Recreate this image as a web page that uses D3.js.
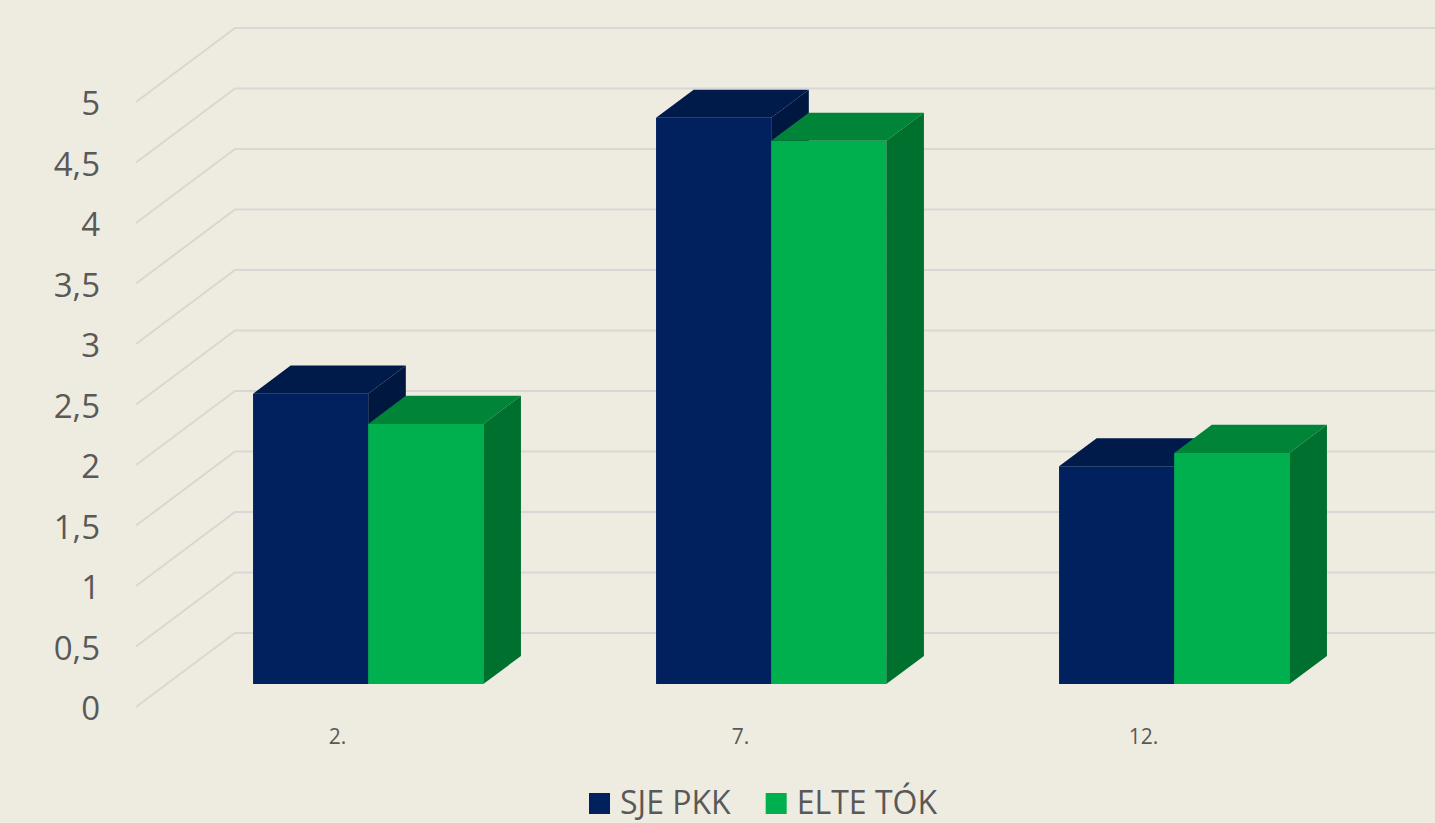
<!DOCTYPE html>
<html>
<head>
<meta charset="utf-8">
<script src="https://cdn.jsdelivr.net/npm/d3@7"></script>
<style>
  html, body { margin: 0; padding: 0; background: #eeece1; }
  svg { display: block; }
  text { font-family: "Open Sans", "Noto Sans", sans-serif; fill: #595959; }
</style>
</head>
<body>
<svg id="chart" width="1435" height="823"></svg>
<script>
// ---- data ----
const categories = ["2.", "7.", "12."];
const seriesNames = ["SJE PKK", "ELTE TÓK"];
const sjePkk = [2.4, 4.68, 1.8];
const elteTok = [2.15, 4.49, 1.91];
const yTicks = [0, 0.5, 1, 1.5, 2, 2.5, 3, 3.5, 4, 4.5, 5];
const yTickLabels = ["0", "0,5", "1", "1,5", "2", "2,5", "3", "3,5", "4", "4,5", "5"];

// ---- styles ----
const colors = {
  "SJE PKK": { front: "#00205e", top: "#001a49", side: "#001740" },
  "ELTE TÓK": { front: "#00b04f", top: "#008538", side: "#00702f" }
};
const gridColor = "#d7d7d5";

const svg = d3.select("#chart");
const W = 1435;

// front-plane scales (floor front edge, depth t = 0)
const x = d3.scaleBand().domain(categories).range([136, 1345]).paddingInner(0).paddingOuter(0);
const xs = d3.scaleBand().domain(seriesNames).range([0, x.bandwidth()]).paddingInner(0).paddingOuter(0.75);
const y = d3.scaleLinear().domain([0, 5]).range([707, 102]);

// oblique depth projection
const depthDX = 99, depthDY = -74;
const barT0 = 0.31, barT1 = 0.69;
const proj = (px, py, t) => [px + depthDX * t, py + depthDY * t];

// ---- gridlines: side wall diagonals + back wall horizontals ----
const grid = svg.append("g");
yTicks.forEach(v => {
  const f = proj(x.range()[0], y(v), 0);
  const b = proj(x.range()[0], y(v), 1);
  grid.append("polyline")
    .attr("points", [f, b, [W, b[1]]].map(p => p.join(",")).join(" "))
    .attr("fill", "none")
    .attr("stroke", gridColor)
    .attr("stroke-width", 2);
});

// ---- y axis labels ----
const yAxis = d3.axisLeft(y)
  .tickValues(yTicks)
  .tickFormat((d, i) => yTickLabels[i])
  .tickSize(0)
  .tickPadding(36);
const yg = svg.append("g").attr("transform", `translate(${x.range()[0]},2)`).call(yAxis);
yg.select(".domain").remove();
yg.selectAll("text").style("font-size", "33px").attr("fill", "#595959")
  .style("font-family", '"Open Sans", sans-serif');

// ---- 3D bars ----
const rows = categories.map((c, i) => ({ cat: c, values: [sjePkk[i], elteTok[i]] }));
const bars = svg.append("g");
rows.forEach(r => {
  seriesNames.forEach((s, si) => {
    const v = r.values[si];
    const x0 = x(r.cat) + xs(s);
    const x1 = x0 + xs.bandwidth();
    const yb = y(0), yt = y(v);
    const A = proj(x0, yt, barT0), B = proj(x1, yt, barT0);
    const C = proj(x1, yb, barT0), D = proj(x0, yb, barT0);
    const A2 = proj(x0, yt, barT1), B2 = proj(x1, yt, barT1), C2 = proj(x1, yb, barT1);
    const poly = pts => pts.map(p => p.join(",")).join(" ");
    const col = colors[s];
    bars.append("polygon").attr("points", poly([A, B, C, D])).attr("fill", col.front);
    bars.append("polygon").attr("points", poly([A, A2, B2, B])).attr("fill", col.top);
    bars.append("polygon").attr("points", poly([B, B2, C2, C])).attr("fill", col.side);
  });
});

// ---- category labels ----
const xAxis = d3.axisBottom(x).tickSize(0).tickPadding(22);
const xg = svg.append("g").attr("transform", `translate(0,${y(0)})`).call(xAxis);
xg.select(".domain").remove();
xg.selectAll("text").style("font-size", "21px").attr("fill", "#595959")
  .style("font-family", '"Open Sans", sans-serif');

// ---- legend ----
const legend = svg.append("g");
const items = seriesNames.map(s => {
  const g = legend.append("g");
  g.append("rect").attr("width", 21).attr("height", 21).attr("y", -21).attr("fill", colors[s].front);
  const t = g.append("text").attr("x", 31).attr("y", 0).style("font-size", "32px").text(s);
  return { g, w: 31 + t.node().getComputedTextLength() };
});
const gap = 35;
const total = d3.sum(items, d => d.w) + gap * (items.length - 1);
let lx = 763 - total / 2;
items.forEach(it => {
  it.g.attr("transform", `translate(${lx},814)`);
  lx += it.w + gap;
});
</script>
</body>
</html>
